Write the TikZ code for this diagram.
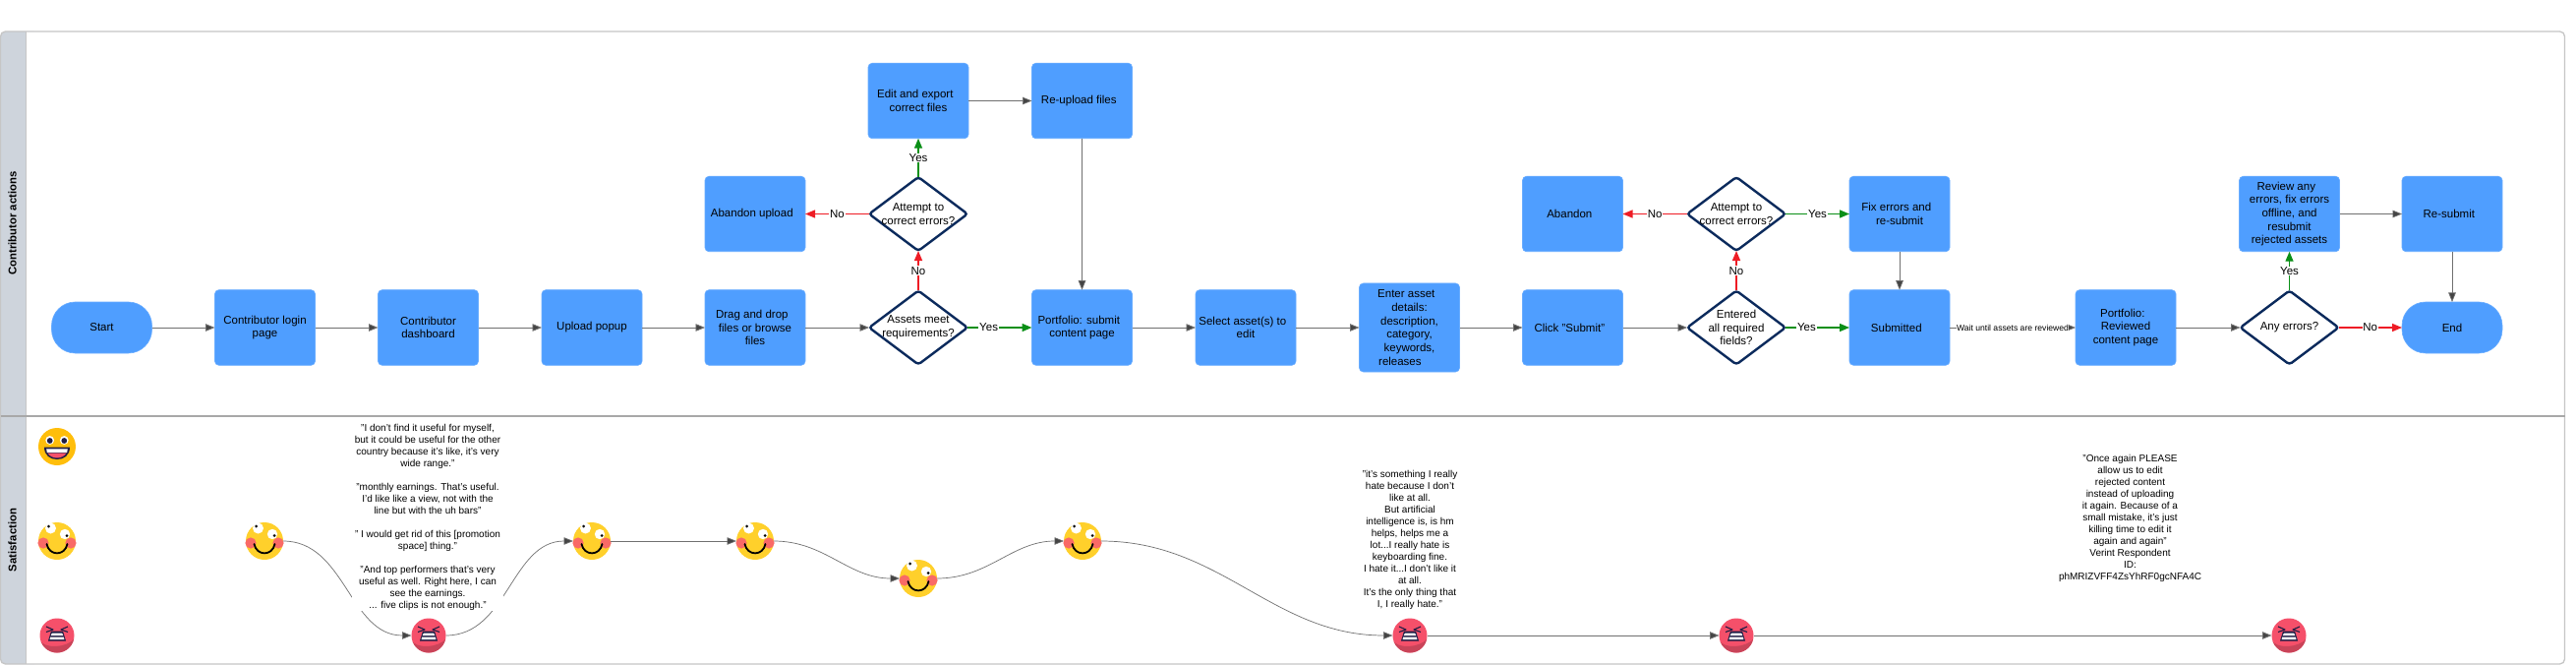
\documentclass[tikz,border=0pt]{standalone}
\usepackage{fontspec}
\setmainfont{Liberation Sans}
\usetikzlibrary{arrows.meta,shapes.geometric}
\definecolor{boxblue}{HTML}{4F9EFF}
\definecolor{navy}{HTML}{0B2A5C}
\definecolor{lanegray}{HTML}{CED4DC}
\definecolor{framegray}{HTML}{C6C6C6}
\definecolor{linegray}{HTML}{707070}
\definecolor{tipgray}{HTML}{444444}
\definecolor{redline}{HTML}{EE1C25}
\definecolor{greenline}{HTML}{0A8F17}
\definecolor{happyface}{HTML}{FFBE0B}
\definecolor{smileface}{HTML}{FFD02B}
\definecolor{cheek}{HTML}{F96A66}
\definecolor{angryface}{HTML}{F5506A}
\definecolor{angrydark}{HTML}{C94459}
\definecolor{facedark}{HTML}{1F1D45}
\newcommand{\tsp}{\hspace*{6.4pt}}
\tikzset{
  x=1pt,y=-1pt,
  stepbox/.style={rectangle,rounded corners=4pt,fill=boxblue,draw=boxblue!85!white,line width=.6pt,
    minimum width=102pt,minimum height=76.5pt,inner sep=0pt,outer sep=0pt,align=center,
    font=\fontsize{11.5}{13.7}\selectfont,text=black},
  tallbox/.style={stepbox,minimum height=90pt},
  termbox/.style={stepbox,minimum height=52pt,rounded corners=24pt},
  decision/.style={diamond,aspect=1.33,draw=navy,line width=2.4pt,fill=white,rounded corners=3pt,
    minimum width=100pt,minimum height=75pt,inner sep=0pt,outer sep=0pt},
  dectext/.style={align=center,inner sep=0pt,font=\fontsize{11.5}{13.7}\selectfont},
  flow/.style={draw=linegray,line width=.9pt,-{Triangle[length=9.5pt,width=7.5pt,fill=tipgray]}},
  thinflow/.style={flow,line width=.7pt},
  noflow/.style={draw=redline,line width=1.4pt,-{Triangle[length=10pt,width=8pt,fill=redline]}},
  yesflow/.style={draw=greenline,line width=1.4pt,-{Triangle[length=10pt,width=8pt,fill=greenline]}},
  lab/.style={fill=white,inner sep=.8pt,font=\fontsize{11.5}{13}\selectfont},
  smalllab/.style={fill=white,inner sep=.5pt,font=\fontsize{8.6}{10}\selectfont},
  quote/.style={align=center,inner sep=0pt,font=\fontsize{10}{12}\selectfont},
  lanetitle/.style={rotate=90,inner sep=0pt,font=\fontsize{11.3}{13}\selectfont\bfseries},
  emo/.style={circle,minimum size=38pt,inner sep=0pt,outer sep=0pt},
  emoa/.style={circle,minimum size=35pt,inner sep=0pt,outer sep=0pt},
  happy/.pic={
    \fill[happyface] (0,0) circle[radius=19];
    \fill[white] (-7.3,-6.5) circle[radius=4.4] (7.3,-6.5) circle[radius=4.4];
    \fill[facedark] (-7.3,-6) circle[radius=2.9] (7.3,-6) circle[radius=2.9];
    \fill[facedark] (-13,0.5) -- (13,0.5) .. controls (13,9) and (7,13) .. (0,13) .. controls (-7,13) and (-13,9) .. (-13,0.5) -- cycle;
    \fill[white] (-10.8,2.3) -- (10.8,2.3) -- (10.2,6) -- (-10.2,6) -- cycle;
    \fill[angryface] (-9.5,6.5) -- (9.5,6.5) .. controls (8,9.5) and (4,11.5) .. (0,11.5) .. controls (-4,11.5) and (-8,9.5) .. (-9.5,6.5) -- cycle;
  },
  smiley/.pic={
    \fill[smileface] (0,0) circle[radius=19];
    \fill[cheek] (-14,2) circle[radius=5.6] (14,2) circle[radius=5.6];
    \fill[white] (-6.5,-13) circle[radius=5.5] (8,-7) circle[radius=5.2];
    \fill[black] (-8.5,-15) circle[radius=1.5] (10,-5.5) circle[radius=1.5];
    \draw[black,line width=1.8pt,line cap=round] (-10.5,3) .. controls (-8,15.5) and (8,15.5) .. (10.5,3);
  },
  angry/.pic={
    \fill[angryface] (0,0) circle[radius=17.5];
    \begin{scope}
      \clip (0,0) circle[radius=17.5];
      \fill[angrydark] (-18,4) .. controls (-14,14) and (10,13) .. (18,3) -- (18,18) -- (-18,18) -- cycle;
    \end{scope}
    \draw[facedark,line width=1.1pt,line join=round] (-11,-9) -- (-4,-6) -- (-11,-3.5);
    \draw[facedark,line width=1.1pt,line join=round] (11,-9) -- (4,-6) -- (11,-3.5);
    \fill[facedark] (-6,-4.5) -- (6,-4.5) -- (9,5.5) -- (-9,5.5) -- cycle;
    \fill[white] (-5,-2.5) -- (5,-2.5) -- (6.3,0) -- (-6.3,0) -- cycle;
    \fill[white] (-6.8,1.5) -- (6.8,1.5) -- (7.4,4) -- (-7.4,4) -- cycle;
  },
}
\begin{document}
\begin{tikzpicture}
\useasboundingbox (0,0) rectangle (2620,676);
\fill[white] (0,0) rectangle (2620,676);
% swimlane frame
\fill[lanegray,rounded corners=5pt] (0.5,32) rectangle (40,675);
\fill[white] (26,32) rectangle (50,675);
\draw[framegray,line width=.9pt] (26,32) -- (26,675);
\draw[framegray,rounded corners=5pt,line width=1.3pt] (0.5,32) rectangle (2608.5,675);
\draw[framegray!85!black,line width=1.1pt] (0.5,423) -- (2608.5,423);
\node[lanetitle] (lane1) at (12.5,227) {Contributor actions};
\node[lanetitle] (lane2) at (12.5,549) {Satisfaction};
% flow nodes
\node[termbox] (start) at (103.5,333) {Start};
\node[stepbox] (login) at (269.5,333) {Contributor login\\page};
\node[stepbox] (dash) at (435.5,333) {Contributor\\dashboard};
\node[stepbox] (popup) at (602,333) {Upload popup};
\node[stepbox] (drag) at (768,333) {Drag and drop\tsp\\files or browse\\files};
\node[decision,label={[dectext]center:{Assets meet\\requirements?}}] (meet) at (934,333) {};
\node[stepbox] (abup) at (768,217.5) {Abandon upload\tsp};
\node[decision,label={[dectext]center:{Attempt to\\correct errors?}}] (att1) at (934,217.5) {};
\node[stepbox] (edit) at (934,102.5) {Edit and export\tsp\\correct files};
\node[stepbox] (reup) at (1100.5,102.5) {Re-upload files\tsp};
\node[stepbox] (psub) at (1100.5,333) {Portfolio: submit\tsp\\content page};
\node[stepbox] (sel) at (1267,333) {Select asset(s) to\tsp\\edit};
\node[tallbox] (enter) at (1433.5,333) {Enter asset\tsp\\details:\\description,\\category,\\keywords,\\releases\tsp\tsp\tsp};
\node[stepbox] (click) at (1599.5,333) {Click "Submit"\tsp};
\node[stepbox] (aband) at (1599.5,217.5) {Abandon\tsp};
\node[decision,label={[dectext]center:{Entered\\all required\\fields?}}] (req) at (1766,333) {};
\node[decision,label={[dectext]center:{Attempt to\\correct errors?}}] (att2) at (1766,217.5) {};
\node[stepbox] (fix) at (1932,217.5) {Fix errors and\tsp\\re-submit};
\node[stepbox] (subm) at (1932,333) {Submitted\tsp};
\node[stepbox] (prev) at (2162,333) {Portfolio:\tsp\\Reviewed\\content page};
\node[decision,label={[dectext]center:{Any errors?}}] (any) at (2328.5,333) {};
\node[stepbox] (revw) at (2328.5,217.5) {Review any\tsp\\errors, fix errors\\offline, and\\resubmit\\rejected assets};
\node[stepbox] (resub) at (2494,217.5) {Re-submit\tsp};
\node[termbox] (endn) at (2494,333) {End};
% flow connectors
\draw[flow] (start) -- (login);
\draw[flow] (login) -- (dash);
\draw[flow] (dash) -- (popup);
\draw[flow] (popup) -- (drag);
\draw[flow] (drag) -- (meet);
\draw[noflow] (meet) -- node[lab,pos=.5]{No} (att1);
\draw[noflow] (att1) -- node[lab]{No} (abup);
\draw[yesflow] (att1) -- node[lab]{Yes} (edit);
\draw[yesflow] (meet) -- node[lab,pos=.33]{Yes} (psub);
\draw[thinflow] (edit) -- (reup);
\draw[thinflow] (reup) -- (psub);
\draw[flow] (psub) -- (sel);
\draw[flow] (sel) -- (enter);
\draw[flow] (enter) -- (click);
\draw[flow] (click) -- (req);
\draw[noflow] (req) -- node[lab]{No} (att2);
\draw[noflow] (att2) -- node[lab]{No} (aband);
\draw[yesflow] (att2) -- node[lab]{Yes} (fix);
\draw[yesflow] (req) -- node[lab,pos=.33]{Yes} (subm);
\draw[thinflow] (fix) -- (subm);
\draw[flow] (subm) -- node[smalllab]{Wait until assets are reviewed} (prev);
\draw[flow] (prev) -- (any);
\draw[noflow] (any) -- node[lab]{No} (endn);
\draw[yesflow] (any) -- node[lab]{Yes} (revw);
\draw[thinflow] (revw) -- (resub);
\draw[thinflow] (resub) -- (endn);
% satisfaction faces
\node[emo] (scaleh) at (58,454) {};
\node[emo] (scales) at (58,550) {};
\node[emoa] (scalea) at (58,646) {};
\node[emo] (f1) at (269,550) {};
\node[emoa] (f2) at (436,646) {};
\node[emo] (f3) at (602,550) {};
\node[emo] (f4) at (768,550) {};
\node[emo] (f5) at (934,588) {};
\node[emo] (f6) at (1101,550) {};
\node[emoa] (f7) at (1434,646) {};
\node[emoa] (f8) at (1766,646) {};
\node[emoa] (f9) at (2328,646) {};
\draw[thinflow] (f1.east) to[out=0,in=180] (f2.west);
\draw[thinflow] (f2.east) to[out=0,in=180] (f3.west);
\draw[thinflow] (f3) -- (f4);
\draw[thinflow] (f4.east) to[out=0,in=180] (f5.west);
\draw[thinflow] (f5.east) to[out=0,in=180] (f6.west);
\draw[thinflow] (f6.east) to[out=0,in=180] (f7.west);
\draw[flow] (f7) -- (f8);
\draw[flow] (f8) -- (f9);
\pic at (scaleh.center) {happy};
\pic at (scales.center) {smiley};
\pic at (scalea.center) {angry};
\pic at (f1.center) {smiley};
\pic at (f2.center) {angry};
\pic at (f3.center) {smiley};
\pic at (f4.center) {smiley};
\pic at (f5.center) {smiley};
\pic at (f6.center) {smiley};
\pic at (f7.center) {angry};
\pic at (f8.center) {angry};
\pic at (f9.center) {angry};
% quotes
\node[quote,fill=white,minimum width=154pt] (q1) at (435,526) {"I don't find it useful for myself,\\but it could be useful for the other\\country because it's like, it's very\\wide range."\\[12pt]"monthly earnings. That's useful.\\I'd like like a view, not with the\\line but with the uh bars"\\[12pt]" I would get rid of this [promotion\\space] thing."\\[12pt]"And top performers that's very\\useful as well. Right here, I can\\see the earnings.\\... five clips is not enough."};
\node[quote] (q2) at (1434,549) {"it's something I really\\hate because I don't\\like at all.\\But artificial\\intelligence is, is hm\\helps, helps me a\\lot...I really hate is\\keyboarding fine.\\I hate it...I don't like it\\at all.\\It's the only thing that\\I, I really hate."};
\node[quote] (q3) at (2166.5,526.5) {"Once again PLEASE\\allow us to edit\\rejected content\\instead of uploading\\it again. Because of a\\small mistake, it's just\\killing time to edit it\\again and again"\\Verint Respondent\\ID:\\phMRIZVFF4ZsYhRF0gcNFA4C};
\end{tikzpicture}
\end{document}
